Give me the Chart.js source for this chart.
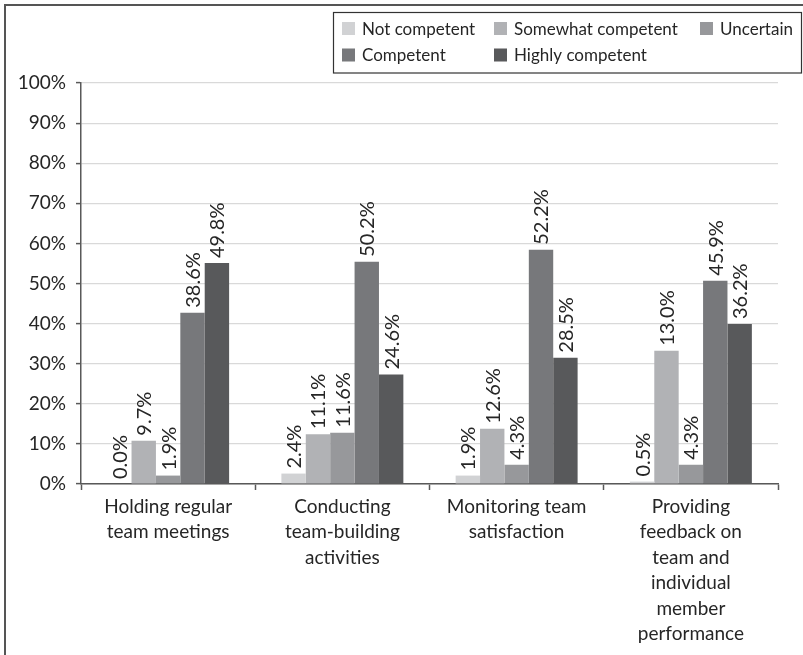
<!DOCTYPE html>
<html>
<head>
<meta charset="utf-8">
<script src="https://cdn.jsdelivr.net/npm/chart.js@4.4.1/dist/chart.umd.min.js"></script>
<style>
	body { margin: 0; background: #fff; }
	#wrap { width: 803px; height: 655px; }
</style>
</head>
<body>
<div id="wrap"><canvas id="chart" width="803" height="655"></canvas></div>
<script>
// categories (multi-line tick labels)
const categories = [
	['Holding regular', 'team meetings'],
	['Conducting', 'team-building', 'activities'],
	['Monitoring team', 'satisfaction'],
	['Providing', 'feedback on', 'team and', 'individual', 'member', 'performance'],
];

const seriesNames = ['Not competent', 'Somewhat competent', 'Uncertain', 'Competent', 'Highly competent'];
const seriesColors = ['#d1d2d4', '#b1b2b5', '#97989b', '#77787b', '#58595b'];

// bar heights as drawn in the picture
const notCompetent = [0, 2.6, 2.1, 0.6];
const somewhatCompetent = [10.8, 12.4, 13.8, 33.2];
const uncertain = [2.1, 12.8, 4.8, 4.8];
const competent = [42.7, 55.4, 58.4, 50.7];
const highlyCompetent = [55.1, 27.3, 31.5, 39.9];

// printed value labels
const notCompetentLabels = ['0.0%', '2.4%', '1.9%', '0.5%'];
const somewhatCompetentLabels = ['9.7%', '11.1%', '12.6%', '13.0%'];
const uncertainLabels = ['1.9%', '11.6%', '4.3%', '4.3%'];
const competentLabels = ['38.6%', '50.2%', '52.2%', '45.9%'];
const highlyCompetentLabels = ['49.8%', '24.6%', '28.5%', '36.2%'];

const yTicks = [0, 10, 20, 30, 40, 50, 60, 70, 80, 90, 100];

const values = [notCompetent, somewhatCompetent, uncertain, competent, highlyCompetent];
const valueLabels = [notCompetentLabels, somewhatCompetentLabels, uncertainLabels, competentLabels, highlyCompetentLabels];

const FONT = 'Lato, "Open Sans", sans-serif';
const TEXT = '#262626';

let datasets = [];
for (let i = 0; i < seriesNames.length; i++) {
	datasets.push({
		label: seriesNames[i],
		data: values[i],
		valueLabels: valueLabels[i],
		backgroundColor: seriesColors[i],
		borderWidth: 0,
		barPercentage: 1,
		categoryPercentage: 0.7,
	});
}

// frame round the picture
const framePlugin = {
	id: 'frame',
	afterDraw(chart) {
		const ctx = chart.ctx;
		ctx.save();
		ctx.strokeStyle = '#555';
		ctx.lineWidth = 2;
		ctx.beginPath();
		ctx.moveTo(5, 655);
		ctx.lineTo(5, 5);
		ctx.lineTo(803, 5);
		ctx.stroke();
		ctx.restore();
	}
};

// legend laid out as a grid, like the original
const legendPlugin = {
	id: 'gridLegend',
	afterDraw(chart) {
		const ctx = chart.ctx;
		const cols = [342, 494, 700];
		const rows = [28.5, 55];
		ctx.save();
		ctx.fillStyle = '#fff';
		ctx.fillRect(333, 12, 469, 61);
		ctx.strokeStyle = '#333';
		ctx.lineWidth = 1.2;
		ctx.strokeRect(333.5, 12.5, 468, 60.5);
		ctx.font = '17px ' + FONT;
		ctx.textBaseline = 'middle';
		ctx.textAlign = 'left';
		chart.data.datasets.forEach((ds, i) => {
			const x = cols[i % 3];
			const y = rows[Math.floor(i / 3)];
			ctx.fillStyle = ds.backgroundColor;
			ctx.fillRect(x, y - 6.5, 13, 13);
			ctx.fillStyle = TEXT;
			ctx.fillText(ds.label, x + 20, y + 1);
		});
		ctx.restore();
	}
};

// rotated value labels above the bars
const valueLabelPlugin = {
	id: 'valueLabels',
	afterDatasetsDraw(chart) {
		const ctx = chart.ctx;
		ctx.save();
		ctx.font = '20px ' + FONT;
		ctx.fillStyle = TEXT;
		ctx.textAlign = 'left';
		ctx.textBaseline = 'middle';
		chart.data.datasets.forEach((ds, i) => {
			const meta = chart.getDatasetMeta(i);
			meta.data.forEach((bar, j) => {
				ctx.save();
				ctx.translate(bar.x + 1, bar.y - 5);
				ctx.rotate(-Math.PI / 2);
				ctx.fillText(ds.valueLabels[j], 0, 0);
				ctx.restore();
			});
		});
		ctx.restore();
	}
};

new Chart(document.getElementById('chart'), {
	type: 'bar',
	data: {
		labels: categories,
		datasets: datasets,
	},
	options: {
		responsive: false,
		animation: false,
		devicePixelRatio: 1,
		layout: {
			padding: {top: 83, right: 25, left: 0, bottom: 0},
		},
		plugins: {
			legend: {display: false},
			tooltip: {enabled: false},
		},
		scales: {
			x: {
				offset: true,
				grid: {
					display: true,
					drawOnChartArea: false,
					offset: true,
					tickLength: 6,
					tickColor: '#595959',
					tickWidth: 1.5,
				},
				border: {color: '#595959', width: 1.5},
				ticks: {
					autoSkip: false,
					maxRotation: 0,
					minRotation: 0,
					padding: 4,
					color: TEXT,
					font: {family: FONT, size: 19, lineHeight: 1.34},
				},
				afterFit(scale) { scale.height = 171; },
			},
			y: {
				min: 0,
				max: 100,
				afterBuildTicks(scale) { scale.ticks = yTicks.map(v => ({value: v})); },
				grid: {
					color: '#d9d9d9',
					lineWidth: 1.2,
					tickLength: 5,
					tickColor: '#595959',
					tickWidth: 1.5,
				},
				border: {color: '#595959', width: 1.5},
				ticks: {
					padding: 10,
					color: TEXT,
					font: {family: FONT, size: 19},
					callback: v => v + '%',
				},
				afterFit(scale) { scale.width = 81; },
			},
		},
	},
	plugins: [valueLabelPlugin, legendPlugin, framePlugin],
});
</script>
</body>
</html>
